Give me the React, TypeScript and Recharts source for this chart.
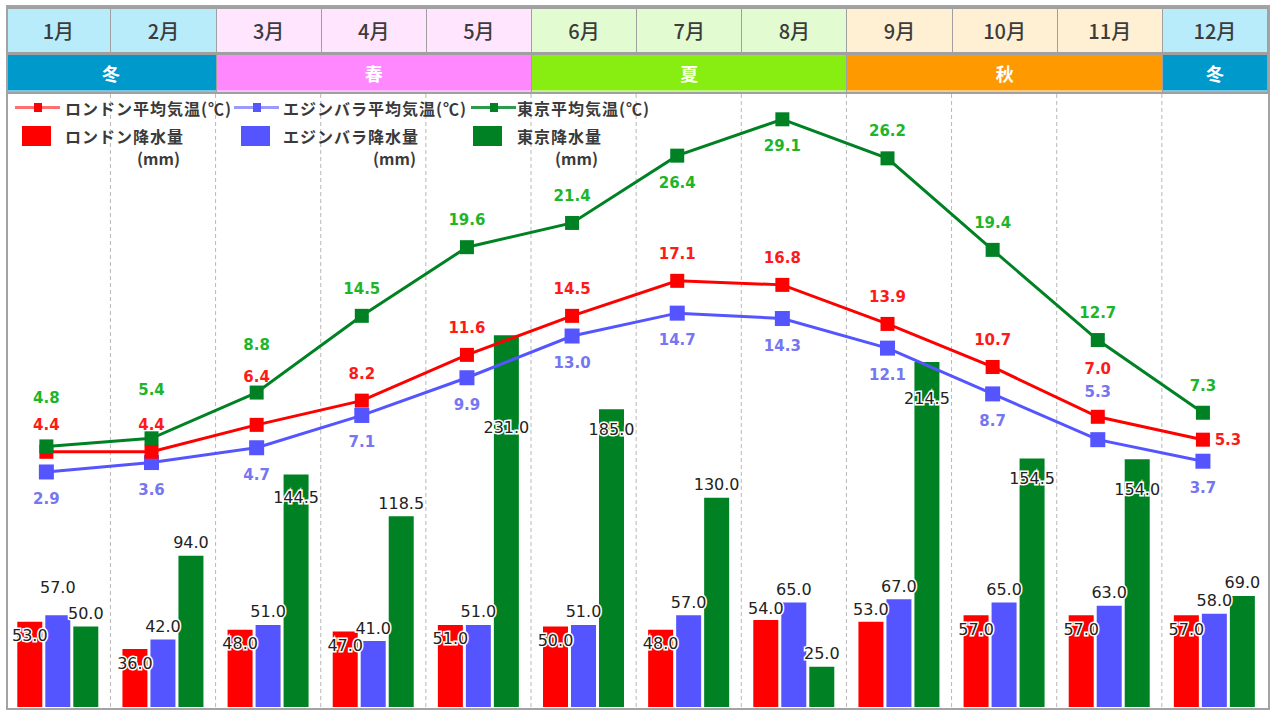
import React from 'react'
import {
  ComposedChart, Bar, Line, XAxis, YAxis, CartesianGrid, LabelList,
} from 'recharts'

const MONTHS = ['1月', '2月', '3月', '4月', '5月', '6月', '7月', '8月', '9月', '10月', '11月', '12月']

const LONDON_TEMP = [4.4, 4.4, 6.4, 8.2, 11.6, 14.5, 17.1, 16.8, 13.9, 10.7, 7.0, 5.3]
const EDINBURGH_TEMP = [2.9, 3.6, 4.7, 7.1, 9.9, 13.0, 14.7, 14.3, 12.1, 8.7, 5.3, 3.7]
const TOKYO_TEMP = [4.8, 5.4, 8.8, 14.5, 19.6, 21.4, 26.4, 29.1, 26.2, 19.4, 12.7, 7.3]

const LONDON_RAIN = [53, 36, 48, 47, 51, 50, 48, 54, 53, 57, 57, 57]
const EDINBURGH_RAIN = [57, 42, 51, 41, 51, 51, 57, 65, 67, 65, 63, 58]
const TOKYO_RAIN = [50, 94, 144.5, 118.5, 231, 185, 130, 25, 214.5, 154.5, 154, 69]

// season name, how many months it spans, colours
const SEASONS = [
  { name: '冬', span: 2, bg: '#0099cc', cell: '#b9ecfb' },
  { name: '春', span: 3, bg: '#ff88ff', cell: '#ffe5fd' },
  { name: '夏', span: 3, bg: '#88ee11', cell: '#e3fbd1' },
  { name: '秋', span: 3, bg: '#ff9900', cell: '#fff0d3' },
  { name: '冬', span: 1, bg: '#0099cc', cell: '#b9ecfb' },
]

// where each temperature label sits relative to its point
const TOKYO_LABEL_AT = ['up2', 'up2', 'up2', 'up', 'up', 'up', 'down', 'down', 'up', 'up', 'up', 'up']
const LONDON_LABEL_AT = ['up', 'up', 'up2', 'up', 'up', 'up', 'up', 'up', 'up', 'up', 'up2', 'right']
const EDINBURGH_LABEL_AT = ['down', 'down', 'down', 'down', 'down', 'down', 'down', 'down', 'down', 'down', 'up2', 'down']

const W = 1275
const H = 710
const PLOT_LEFT = 5.3
const PLOT_RIGHT = 1267
const PLOT_TOP = 94
const PLOT_BOTTOM = 707
const BAND = (PLOT_RIGHT - PLOT_LEFT) / 12
const POINT_SHIFT = 11.5 / BAND
const TEMP_MIN = -14.56
const TEMP_MAX = 30.98

const RED = '#ff0000'
const BLUE = '#5555ff'
const GREEN = '#008224'

const NUM_FONT = '"DejaVu Sans", Verdana, sans-serif'
const JP_FONT = '"Noto Sans CJK JP", "Noto Sans", sans-serif'

const data = MONTHS.map((m, i) => ({
  month: m,
  pos: i,
  londonTemp: LONDON_TEMP[i],
  edinTemp: EDINBURGH_TEMP[i],
  tokyoTemp: TOKYO_TEMP[i],
  londonRain: LONDON_RAIN[i],
  edinRain: EDINBURGH_RAIN[i],
  tokyoRain: TOKYO_RAIN[i],
}))

const OFFSETS: Record<string, [number, number]> = {
  up: [0, -27],
  up2: [0, -48],
  down: [0, 27],
  right: [25, 0],
}

// pixel y of a temperature, same mapping as the hidden temp axis
const tempY = (t: number) =>
  PLOT_TOP + ((TEMP_MAX - t) / (TEMP_MAX - TEMP_MIN)) * (PLOT_BOTTOM - PLOT_TOP)

function getXY(props: any) {
  const vb = props.viewBox || {}
  const x = props.x ?? vb.x
  const y = props.y ?? vb.y
  const width = props.width ?? vb.width ?? 0
  const height = props.height ?? vb.height ?? 0
  return { x, y, width, height }
}

const tempLabel = (placement: string[], color: string) => (props: any) => {
  const { x, y } = getXY(props)
  const i = props.index
  const [dx, dy] = OFFSETS[placement[i]] || OFFSETS.up
  return (
    <text
      key={`t-${color}-${i}`}
      x={x + dx}
      y={y + dy}
      textAnchor="middle"
      dominantBaseline="central"
      fontFamily={NUM_FONT}
      fontWeight="bold"
      fontSize={15}
      fill={color}
    >
      {Number(props.value).toFixed(1)}
    </text>
  )
}

const rainLabel = (series: 'london' | 'edin' | 'tokyo') => (props: any) => {
  const { x, y, width } = getXY(props)
  const i = props.index
  const red = LONDON_RAIN[i]
  const blue = EDINBURGH_RAIN[i]
  const green = TOKYO_RAIN[i]
  let ly = y - 13
  if (series === 'london') {
    ly = Math.abs(red - blue) <= 10 ? y + 14 : y - 12
  } else if (series === 'edin') {
    ly = green <= 140 && Math.abs(green - blue) <= 10 ? y - 28 : y - 13
  } else if (green > 140) {
    // tall bars: keep the value clear of the temperature lines
    ly = Math.max(y + 20, tempY(EDINBURGH_TEMP[i]) + 50)
  }
  return (
    <text
      key={`r-${series}-${i}`}
      x={x + width / 2}
      y={ly}
      textAnchor="middle"
      dominantBaseline="central"
      fontFamily={NUM_FONT}
      fontSize={16}
      fill="#222"
      stroke="#fff"
      strokeWidth={3}
      paintOrder="stroke"
    >
      {Number(props.value).toFixed(1)}
    </text>
  )
}

const squareDot = (color: string, size: number) => (p: any) => (
  <rect
    key={`d-${color}-${p.index}`}
    x={p.cx - size / 2}
    y={p.cy - size / 2}
    width={size}
    height={size}
    fill={color}
  />
)

function Header() {
  const cells = []
  let m = 0
  SEASONS.forEach((s, si) => {
    for (let k = 0; k < s.span; k++, m++) {
      const left = PLOT_LEFT + m * BAND + 1
      cells.push(
        <div
          key={`m${m}`}
          style={{
            position: 'absolute', left, top: 9, width: BAND - 1, height: 43,
            background: s.cell, color: '#3c3c3c', fontSize: 20, fontWeight: 500, fontFamily: JP_FONT,
            display: 'flex', alignItems: 'center', justifyContent: 'center',
          }}
        >
          {MONTHS[m]}
        </div>,
      )
    }
    const start = m - s.span
    const left = PLOT_LEFT + start * BAND + 1
    cells.push(
      <div
        key={`s${si}`}
        style={{
          position: 'absolute', left, top: 55, width: BAND * s.span - 1, height: 35,
          background: s.bg, color: '#fff', fontSize: 18, fontWeight: 700, fontFamily: JP_FONT,
          display: 'flex', alignItems: 'center', justifyContent: 'center',
          borderBottom: '2px solid rgba(255,255,255,0.45)',
        }}
      >
        {s.name}
      </div>,
    )
  })
  return (
    <div style={{ position: 'absolute', left: 6, top: 5, width: 1264, height: PLOT_TOP - 5, background: '#a0a0a0' }}>
      <div style={{ position: 'absolute', left: -6, top: -5 }}>{cells}</div>
    </div>
  )
}

const LEGEND_TEXT: React.CSSProperties = {
  position: 'absolute', fontFamily: JP_FONT, fontSize: 16, letterSpacing: 1,
  color: '#3a3a3a', fontWeight: 700, whiteSpace: 'nowrap', lineHeight: '16px',
}

function LineIcon({ left, color, light }: { left: number; color: string; light: string }) {
  return (
    <>
      <div style={{ position: 'absolute', left, top: 106, width: 45, height: 3, background: light }} />
      <div style={{ position: 'absolute', left: left + 19, top: 103, width: 8, height: 9, background: color }} />
    </>
  )
}

function Legend() {
  const items = [
    { left: 15, color: RED, light: '#ff7070', line: 'ロンドン平均気温(℃)', rain: 'ロンドン降水量', text: 65, sq: 22, mmRight: 180 },
    { left: 234, color: BLUE, light: '#9a9aff', line: 'エジンバラ平均気温(℃)', rain: 'エジンバラ降水量', text: 283, sq: 241, mmRight: 416 },
    { left: 471, color: GREEN, light: '#2e9a4c', line: '東京平均気温(℃)', rain: '東京降水量', text: 517, sq: 473, mmRight: 598 },
  ]
  return (
    <>
      {items.map((it) => (
        <React.Fragment key={it.line}>
          <LineIcon left={it.left} color={it.color} light={it.light} />
          <div style={{ ...LEGEND_TEXT, left: it.text, top: 100 }}>{it.line}</div>
          <div style={{ position: 'absolute', left: it.sq, top: 126, width: 29, height: 20, background: it.color }} />
          <div style={{ ...LEGEND_TEXT, left: it.text, top: 128 }}>{it.rain}</div>
          <div style={{ ...LEGEND_TEXT, left: it.mmRight - 50, width: 50, textAlign: 'right', top: 150, letterSpacing: 0 }}>(mm)</div>
        </React.Fragment>
      ))}
    </>
  )
}

export default function App() {
  return (
    <div style={{ position: 'absolute', left: 0, top: 0, width: W, height: H, background: '#fff', overflow: 'hidden' }}>
      <Header />
      <div style={{ position: 'absolute', left: 0, top: 0 }}>
        <ComposedChart
          width={W}
          height={H}
          data={data}
          margin={{ top: PLOT_TOP, right: W - PLOT_RIGHT, bottom: H - PLOT_BOTTOM, left: PLOT_LEFT }}
          barSize={25}
          barGap={3}
        >
          <CartesianGrid
            xAxisId="cat"
            yAxisId="rain"
            horizontal={false}
            stroke="#b8b8b8"
            strokeDasharray="4 3"
            verticalCoordinatesGenerator={({ offset }: any) =>
              Array.from({ length: 11 }, (_, k) => offset.left + ((k + 1) * offset.width) / 12)
            }
          />
          <XAxis xAxisId="cat" dataKey="month" type="category" hide />
          <XAxis
            xAxisId="pt"
            dataKey="pos"
            type="number"
            domain={[-0.5 + POINT_SHIFT, 11.5 + POINT_SHIFT]}
            allowDataOverflow
            hide
          />
          <YAxis yAxisId="rain" domain={[0, 381]} allowDataOverflow hide />
          <YAxis yAxisId="temp" orientation="right" domain={[TEMP_MIN, TEMP_MAX]} allowDataOverflow hide />

          <Bar xAxisId="cat" yAxisId="rain" dataKey="londonRain" fill={RED} isAnimationActive={false}>
            <LabelList dataKey="londonRain" content={rainLabel('london')} />
          </Bar>
          <Bar xAxisId="cat" yAxisId="rain" dataKey="edinRain" fill={BLUE} isAnimationActive={false}>
            <LabelList dataKey="edinRain" content={rainLabel('edin')} />
          </Bar>
          <Bar xAxisId="cat" yAxisId="rain" dataKey="tokyoRain" fill={GREEN} isAnimationActive={false}>
            <LabelList dataKey="tokyoRain" content={rainLabel('tokyo')} />
          </Bar>

          <Line
            xAxisId="pt" yAxisId="temp" dataKey="edinTemp" type="linear"
            stroke={BLUE} strokeWidth={3} dot={squareDot(BLUE, 15)} activeDot={false}
            isAnimationActive={false}
          >
            <LabelList dataKey="edinTemp" content={tempLabel(EDINBURGH_LABEL_AT, '#7676f2')} />
          </Line>
          <Line
            xAxisId="pt" yAxisId="temp" dataKey="londonTemp" type="linear"
            stroke={RED} strokeWidth={3} dot={squareDot(RED, 14)} activeDot={false}
            isAnimationActive={false}
          >
            <LabelList dataKey="londonTemp" content={tempLabel(LONDON_LABEL_AT, '#ff1a1a')} />
          </Line>
          <Line
            xAxisId="pt" yAxisId="temp" dataKey="tokyoTemp" type="linear"
            stroke={GREEN} strokeWidth={3} dot={squareDot(GREEN, 14)} activeDot={false}
            isAnimationActive={false}
          >
            <LabelList dataKey="tokyoTemp" content={tempLabel(TOKYO_LABEL_AT, '#1fb52a')} />
          </Line>
        </ComposedChart>
      </div>
      <Legend />
      <div
        style={{
          position: 'absolute', left: 6, top: 5, width: 1264, height: 705,
          border: '2px solid #a3a3a3', boxSizing: 'border-box', pointerEvents: 'none',
        }}
      />
    </div>
  )
}
